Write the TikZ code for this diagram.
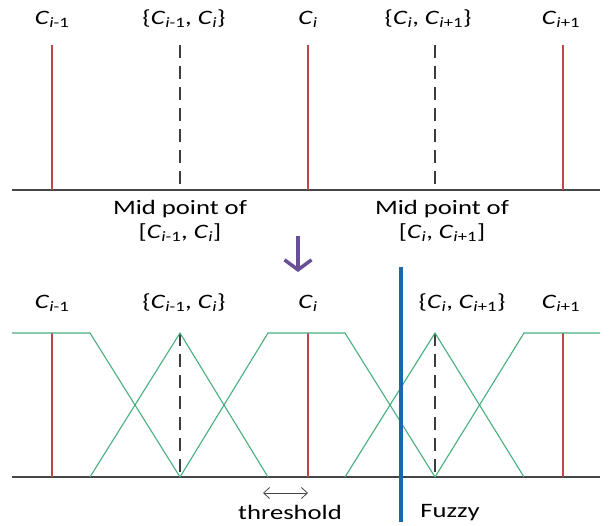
\documentclass[tikz,border=0pt]{standalone}
\usepackage{fontspec}
\setmainfont{Carlito}[FakeStretch=1.3]
\usetikzlibrary{arrows, arrows.meta}
\usetikzlibrary{positioning}

\definecolor{clsred}{RGB}{190,70,70}
\definecolor{mfgreen}{RGB}{70,175,125}
\definecolor{fuzzblue}{RGB}{25,105,170}
\definecolor{arrpurple}{RGB}{105,80,150}
\definecolor{axisgray}{RGB}{70,70,70}

\newcommand{\cls}[1]{\textit{C}\textsubscript{#1}}

\tikzset{
  axisline/.style={draw=axisgray, line width=1.2pt},
  clsline/.style={draw=clsred, line width=1.1pt},
  midline/.style={draw=axisgray!85!black, line width=1.8pt, dash pattern=on 13pt off 8pt},
  mfline/.style={draw=mfgreen, line width=1.1pt},
  lbl/.style={inner sep=1pt}
}

\begin{document}
\begin{tikzpicture}[x=1pt, y=-1pt, font=\fontsize{20.5}{24}\selectfont]
\useasboundingbox (0,0) rectangle (615,525);

% top panel: classes and mid points
\draw[axisline] (12,190)--(600,190) ;
\foreach \x in {52,308,563} \draw[clsline] (\x,45)--(\x,190) ;
\foreach \x in {180,435} \draw[midline] (\x,45)--(\x,190) ;
\node[lbl] (tcm) at (52,19) {\cls{\textit{i}-1}};
\node[lbl] (tmm) at (184,19) {\{\cls{\textit{i}-1}, \cls{\textit{i}}\}};
\node[lbl] (tc) at (308,19) {\cls{\textit{i}}};
\node[lbl] (tmp) at (428,19) {\{\cls{\textit{i}}, \cls{\textit{i}+1}\}};
\node[lbl] (tcp) at (561,19) {\cls{\textit{i}+1}};
\node[lbl, align=center] (midl) at (180,221) {Mid point of\\{}[\cls{\textit{i}-1}, \cls{\textit{i}}]};
\node[lbl, align=center] (midr) at (442,221) {Mid point of\\{}[\cls{\textit{i}}, \cls{\textit{i}+1}]};

% arrow between panels
\coordinate (arrtop) at (298,236);
\coordinate (arrbot) at (298,272);
\draw[draw=arrpurple, line width=3.5pt, -{Straight Barb[length=10pt, width=27pt]}] (arrtop)--(arrbot) ;

% bottom panel: fuzzy memberships
\draw[axisline] (12,477)--(600,477) ;
\foreach \x in {52,308,563} \draw[clsline] (\x,333)--(\x,477) ;
\foreach \x in {180,435} \draw[midline] (\x,333)--(\x,477) ;
\draw[mfline] (12,333)--(90,333)--(180,477) ;
\draw[mfline] (90,477)--(180,333)--(268,477) ;
\draw[mfline] (180,477)--(268,333)--(345,333)--(435,477) ;
\draw[mfline] (345,477)--(435,333)--(524,477) ;
\draw[mfline] (435,477)--(524,333)--(600,333) ;
\node[lbl] (bcm) at (52,303) {\cls{\textit{i}-1}};
\node[lbl] (bmm) at (184,303) {\{\cls{\textit{i}-1}, \cls{\textit{i}}\}};
\node[lbl] (bc) at (308,303) {\cls{\textit{i}}};
\node[lbl] (bmp) at (462,303) {\{\cls{\textit{i}}, \cls{\textit{i}+1}\}};
\node[lbl] (bcp) at (561,303) {\cls{\textit{i}+1}};

% threshold and fuzzy cut
\coordinate (thl) at (263,493);
\coordinate (thr) at (308,493);
\draw[draw=axisgray, line width=0.8pt, {Straight Barb[length=6pt, width=11pt]}-{Straight Barb[length=6pt, width=11pt]}] (thl)--(thr) ;
\node[lbl] (thres) at (290,512) {threshold};
\coordinate (fztop) at (401,267);
\coordinate (fzbot) at (401,522);
\draw[draw=fuzzblue, line width=4.5pt] (fztop)--(fzbot) ;
\node[lbl] (fuzzy) at (450,513) {Fuzzy};
\end{tikzpicture}
\end{document}
